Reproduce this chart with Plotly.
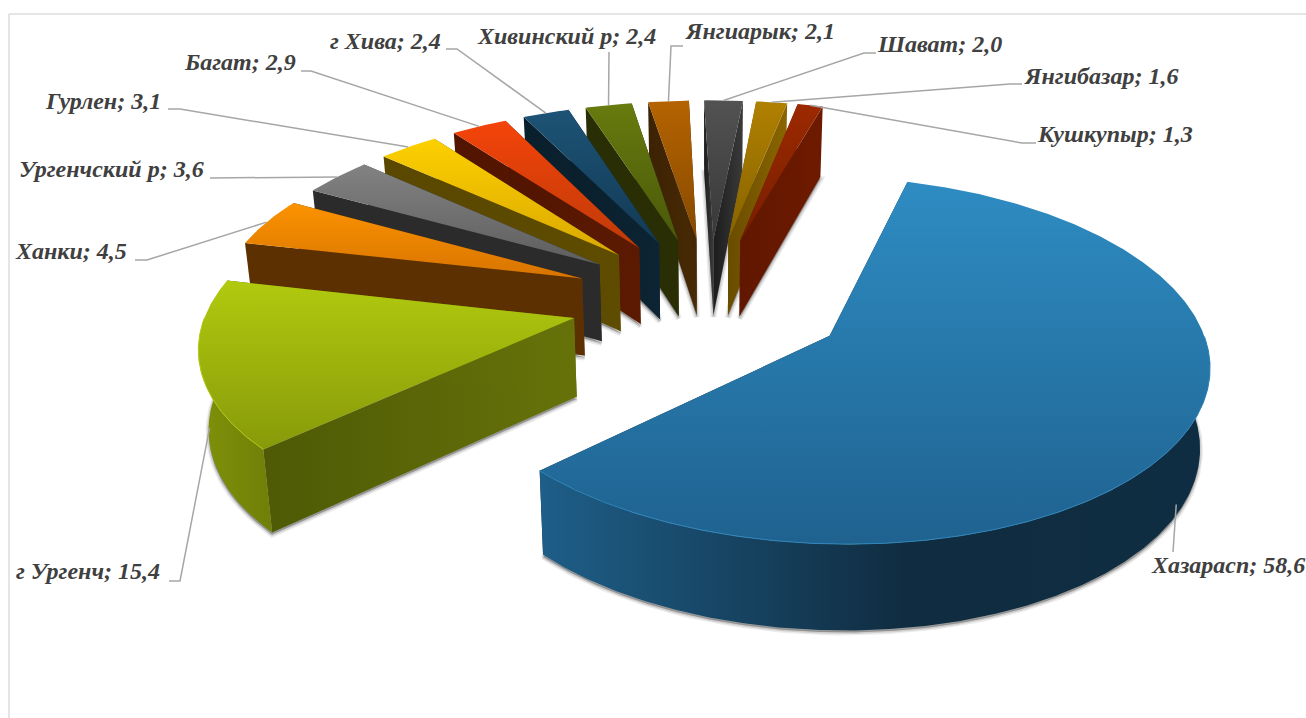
import math
import numpy as np
import plotly.graph_objects as go

# ---- data ----
categories = ["Хазарасп", "г Ургенч", "Ханки", "Ургенчский р", "Гурлен", "Багат",
              "г Хива", "Хивинский р", "Янгиарык", "Шават", "Янгибазар", "Кушкупыр"]
values = [58.6, 15.4, 4.5, 3.6, 3.1, 2.9, 2.4, 2.4, 2.1, 2.0, 1.6, 1.3]

# ---- styles ----
top_colors = [("#2e8cc2", "#1f6290"), ("#b1ca0e", "#879a0a"), ("#fb9300", "#d87400"),
              ("#828282", "#5e5e5e"), ("#fdd000", "#d9a800"), ("#f4440a", "#bf3a08"),
              ("#1d5375", "#123a55"), ("#677b0e", "#4a580a"), ("#b56300", "#864a00"),
              ("#525252", "#383838"), ("#b08000", "#866300"), ("#9c2900", "#761e00")]
wall_colors = [("#0f2d42", "#0f2d42"), ("#4e5a05", "#667209"), ("#5c3000", "#5c3000"),
               ("#2b2b2b", "#2b2b2b"), ("#5a4800", "#5e4c00"), ("#521400", "#5c1a02"),
               ("#0a1f2c", "#0c2433"), ("#2a2e05", "#2a2e05"), ("#3c2204", "#482a04"),
               ("#1c1c1c", "#3a3a3a"), ("#6a4c00", "#8a6500"), ("#611700", "#6e1a00")]
arc_colors = [[(0, "#1e5e88"), (0.55, "#102c40"), (1, "#0f2d42")],
              [(0, "#7f9208"), (1, "#6f7f08")]] + [[(0, c[0]), (1, c[1])] for c in wall_colors[2:]]
rim_colors = ["#2f86bb", "#b4cc10"] + [None] * 10

label_color = "#404040"
leader_color = "#a6a6a6"
label_xy = [(1152, 567), (16, 573), (16, 253), (19, 171), (46, 103), (185, 64),
            (330, 43), (478, 38), (686, 33), (878, 46), (1025, 78), (1038, 136)]
elbows = [[(1173, 552)], [(169, 581), (180, 581)], [(135, 260), (147, 260)],
          [(210, 178)], [(168, 109), (180, 109)], [(301, 71), (311, 71)],
          [(446, 49), (457, 49)], [(609, 52)], [(683, 46), (671, 46)],
          [(876, 53), (864, 53)], [(1022, 84), (1010, 84)], [(1036, 143), (1022, 143)]]
rim_fraction = [0.495, 0.42, 0.5, 0.5, 0.5, 0.5, 0.5, 0.5, 0.5, 0.5, 0.5, 0.5]
rim_depth = [0.85, 0.6, 0, 0, 0, 0, 0, 0, 0, 0, 0, 0]

# ---- view parameters ----
CX, CY, RADIUS, EXPLODE, HEIGHT = 709.0, 301.0, 365.0, 138.0, 78.0
TILT, PERSP, PERSP_Z, ROTATION = 0.47, 0.000354, 0.00022, 16.0
CONVERGE = 0.02


def project(x, y, z):
    k = 1.0 / (1.0 + PERSP * y)
    kz = 1.0 / (1.0 + PERSP_Z * y)
    return CX + x * k * (1 - CONVERGE * z / HEIGHT), CY - TILT * y * k + z * kz


def gradient(kind, lo, hi, stops):
    return dict(type=kind, start=lo, stop=hi, colorscale=[[a, c] for a, c in stops])


def polygon(fig, xs, ys, kind, stops, name):
    lo, hi = (min(ys), max(ys)) if kind == "vertical" else (min(xs), max(xs))
    if hi - lo < 1e-6:
        hi = lo + 1
    fig.add_trace(go.Scatter(
        x=list(xs) + [xs[0]], y=list(ys) + [ys[0]], mode="lines", fill="toself",
        fillgradient=gradient(kind, lo, hi, stops),
        line=dict(width=0, color="rgba(0,0,0,0)"),
        hoverinfo="text", text=name, showlegend=False))


total = sum(values)
spans, start = [], ROTATION
for v in values:
    sweep = 360.0 * v / total
    spans.append((start, start + sweep))
    start += sweep

fig = go.Figure()

order = sorted(range(len(values)),
               key=lambda i: -math.cos(math.radians(sum(spans[i]) / 2)))

for i in order:
    a0, a1 = spans[i]
    mid = math.radians((a0 + a1) / 2)
    ox, oy = EXPLODE * math.sin(mid), EXPLODE * math.cos(mid)
    th = np.radians(np.linspace(a0, a1, max(12, int(a1 - a0) * 2)))
    gx = ox + RADIUS * np.sin(th)
    gy = oy + RADIUS * np.cos(th)
    name = f"{categories[i]}: {str(values[i]).replace('.', ',')}"

    tx, ty = zip(*[project(x, y, 0) for x, y in zip([ox, *gx], [oy, *gy])])
    bx, by = zip(*[project(x, y, HEIGHT) for x, y in zip([ox, *gx], [oy, *gy])])

    # soft ground shadow
    for grow, alpha in ((6, 0.10), (3, 0.16), (0, 0.22)):
        sx = list(bx) + [bx[0]]
        sy = [v + 2 for v in by] + [by[0] + 2]
        fig.add_trace(go.Scatter(
            x=sx, y=sy, mode="lines", fill="toself",
            fillcolor=f"rgba(60,60,60,{alpha})",
            line=dict(width=grow, color=f"rgba(60,60,60,{alpha})"),
            hoverinfo="skip", showlegend=False))

    # cut walls
    wall_stops = [(0, wall_colors[i][0]), (1, wall_colors[i][1])]
    for idx in (1, len(tx) - 1):
        xs = [tx[0], tx[idx], bx[idx], bx[0]]
        ys = [ty[0], ty[idx], by[idx], by[0]]
        polygon(fig, xs, ys, "horizontal", wall_stops, name)

    # outer wall, only the part that faces the viewer
    facing = [j for j in range(1, len(tx)) if math.cos(th[j - 1]) < 0]
    if len(facing) > 1:
        xs = [tx[j] for j in facing] + [bx[j] for j in reversed(facing)]
        ys = [ty[j] for j in facing] + [by[j] for j in reversed(facing)]
        polygon(fig, xs, ys, "horizontal", arc_colors[i], name)

    # top face
    polygon(fig, tx, ty, "vertical", [(0, top_colors[i][0]), (1, top_colors[i][1])], name)
    if rim_colors[i] and len(facing) > 1:
        fig.add_trace(go.Scatter(
            x=[tx[j] for j in facing], y=[ty[j] for j in facing], mode="lines",
            line=dict(width=1, color=rim_colors[i]), hoverinfo="skip", showlegend=False))

# leaders: from a point on each slice's rim through the elbows to the label
for i in range(len(values)):
    a0, a1 = spans[i]
    mid = math.radians((a0 + a1) / 2)
    ox, oy = EXPLODE * math.sin(mid), EXPLODE * math.cos(mid)
    t = math.radians(a0 + (a1 - a0) * rim_fraction[i])
    px, py = project(ox + RADIUS * math.sin(t), oy + RADIUS * math.cos(t), HEIGHT * rim_depth[i])
    pts = elbows[i] + [(px, py)]
    fig.add_trace(go.Scatter(
        x=[p[0] for p in pts], y=[p[1] for p in pts], mode="lines",
        line=dict(color=leader_color, width=1.5), hoverinfo="skip", showlegend=False))

fig.add_trace(go.Scatter(
    x=[p[0] for p in label_xy], y=[p[1] for p in label_xy], mode="text",
    text=[f"{c}; {str(v).replace('.', ',')}" for c, v in zip(categories, values)],
    textposition="middle right",
    textfont=dict(family="Liberation Serif", size=24, color=label_color,
                  weight="bold", style="italic"),
    hoverinfo="skip", showlegend=False, cliponaxis=False))

fig.update_layout(
    width=1306, height=718, margin=dict(l=0, r=0, t=0, b=0),
    paper_bgcolor="white", plot_bgcolor="white", showlegend=False,
    xaxis=dict(range=[0, 1306], visible=False),
    yaxis=dict(range=[718, 0], visible=False),
    shapes=[dict(type="line", xref="x", yref="y", x0=9, x1=1306, y0=14, y1=14,
                 line=dict(color="#dcdcdc", width=1.5), layer="below"),
            dict(type="line", xref="x", yref="y", x0=9, x1=9, y0=14, y1=718,
                 line=dict(color="#dcdcdc", width=1.5), layer="below")],
)

fig.write_html("out.html", config=dict(displayModeBar=False),
               post_script="document.body.style.margin='0';document.body.style.overflow='hidden';")
